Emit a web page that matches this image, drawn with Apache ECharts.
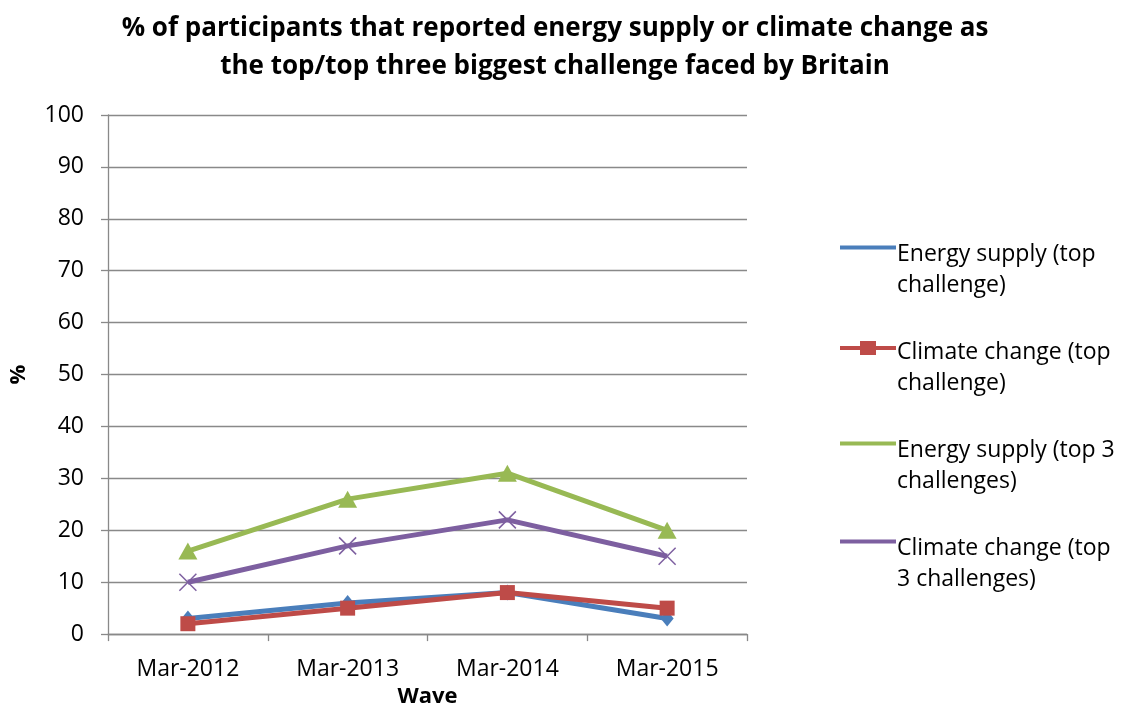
<!DOCTYPE html>
<html>
<head>
<meta charset="utf-8">
<script src="https://cdn.jsdelivr.net/npm/echarts@6/dist/echarts.min.js"></script>
<style>
  html, body { margin: 0; padding: 0; background: #fff; overflow: hidden; }
  #chart { width: 1124px; height: 713px; }
</style>
</head>
<body>
<div id="chart"></div>
<script>
// Survey waves and share of participants (%) naming each issue
const waves = ['Mar-2012', 'Mar-2013', 'Mar-2014', 'Mar-2015'];
const energyTop = [3, 6, 8, 3];
const climateTop = [2, 5, 8, 5];
const energyTop3 = [16, 26, 31, 20];
const climateTop3 = [10, 17, 22, 15];

const seriesNames = [
  'Energy supply (top challenge)',
  'Climate change (top challenge)',
  'Energy supply (top 3 challenges)',
  'Climate change (top 3 challenges)'
];
const legendLines = {
  'Energy supply (top challenge)': 'Energy supply (top\nchallenge)',
  'Climate change (top challenge)': 'Climate change (top\nchallenge)',
  'Energy supply (top 3 challenges)': 'Energy supply (top 3\nchallenges)',
  'Climate change (top 3 challenges)': 'Climate change (top\n3 challenges)'
};

const FONT = '"Open Sans", sans-serif';
const GRID_GREY = '#898989';

// Legend icons: 56x62 box, stroke sits on the first text line
const plainIcon = 'path://M0,13H56V17H0Z M0,62L0.001,62L0,62.001Z';
const squareIcon = 'path://M0,13H20V8H36V13H56V17H36V22H20V17H0Z M0,62L0.001,62L0,62.001Z';
const crossSymbol = 'path://M0,0L1,1M1,0L0,1';

const chart = echarts.init(document.getElementById('chart'));

function lineSeries(name, data, color, symbol, size, extra) {
  return Object.assign({
    name: name,
    type: 'line',
    data: data,
    symbol: symbol,
    symbolSize: size,
    lineStyle: { color: color, width: 5 },
    itemStyle: { color: color },
    emphasis: { disabled: true },
    animation: false
  }, extra || {});
}

chart.setOption({
  backgroundColor: '#fff',
  textStyle: { fontFamily: FONT },
  title: {
    text: '% of participants that reported energy supply or climate change as\nthe top/top three biggest challenge faced by Britain',
    left: 550,
    textAlign: 'center',
    top: 5,
    textStyle: {
      fontFamily: FONT,
      fontSize: 26,
      fontWeight: 'bold',
      color: '#000',
      lineHeight: 38
    }
  },
  legend: {
    orient: 'vertical',
    left: 835,
    top: 234,
    itemWidth: 56,
    itemHeight: 62,
    itemGap: 36,
    selectedMode: false,
    formatter: function (n) { return legendLines[n]; },
    textStyle: { fontFamily: FONT, fontSize: 23, color: '#000', lineHeight: 31, padding: [0, 0, 0, -4] },
    data: [
      { name: seriesNames[0], icon: plainIcon, itemStyle: { color: '#4A7EBB', borderWidth: 0 } },
      { name: seriesNames[1], icon: squareIcon, itemStyle: { color: '#BE4B48', borderWidth: 0 } },
      { name: seriesNames[2], icon: plainIcon, itemStyle: { color: '#98B954', borderWidth: 0 } },
      { name: seriesNames[3], icon: plainIcon, itemStyle: { color: '#7D5FA0', borderWidth: 0 } }
    ]
  },
  grid: { left: 107, width: 640, top: 115, height: 525 },
  xAxis: {
    type: 'category',
    data: waves,
    boundaryGap: true,
    name: 'Wave',
    nameLocation: 'middle',
    nameGap: 51,
    nameTextStyle: { fontFamily: FONT, fontSize: 22, fontWeight: 'bold', color: '#000' },
    axisLine: { lineStyle: { color: GRID_GREY, width: 1.3 } },
    axisTick: { show: true, length: 7, lineStyle: { color: GRID_GREY, width: 1.3 } },
    axisLabel: { fontFamily: FONT, fontSize: 23, color: '#000', margin: 24 }
  },
  yAxis: {
    type: 'value',
    min: 0,
    max: 100,
    interval: 10,
    name: '%',
    nameLocation: 'middle',
    nameGap: 78,
    nameRotate: 90,
    nameTextStyle: { fontFamily: FONT, fontSize: 22, fontWeight: 'bold', color: '#000' },
    axisLine: { show: true, lineStyle: { color: GRID_GREY, width: 1.3 } },
    axisTick: { show: true, length: 7, lineStyle: { color: GRID_GREY, width: 1.3 } },
    axisLabel: { fontFamily: FONT, fontSize: 23, color: '#000', margin: 24 },
    splitLine: { lineStyle: { color: GRID_GREY, width: 1.3 } }
  },
  series: [
    lineSeries(seriesNames[0], energyTop, '#4A7EBB', 'diamond', [13, 16]),
    lineSeries(seriesNames[1], climateTop, '#BE4B48', 'rect', 15),
    lineSeries(seriesNames[2], energyTop3, '#98B954', 'triangle', [19, 17]),
    lineSeries(seriesNames[3], climateTop3, '#7D5FA0', crossSymbol, 17, {
      itemStyle: { color: 'rgba(0,0,0,0)', borderColor: '#7D5FA0', borderWidth: 1.5 }
    })
  ]
});
</script>
</body>
</html>
